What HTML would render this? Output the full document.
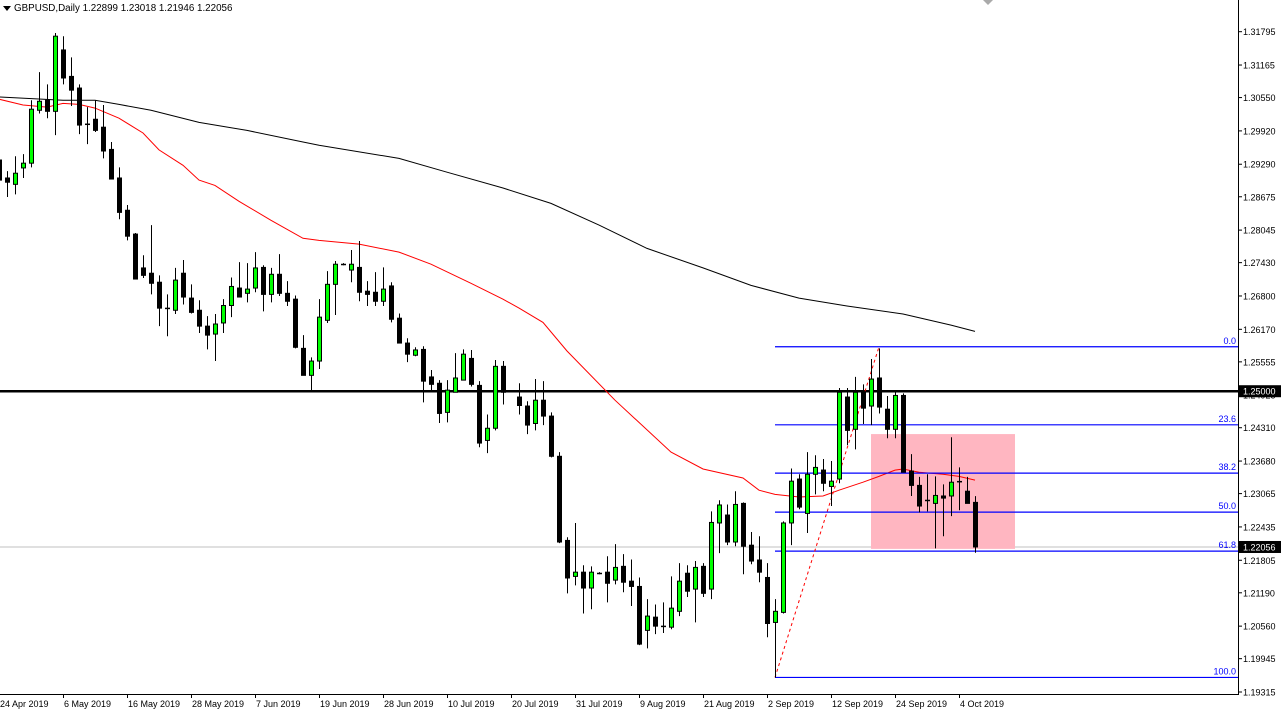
<!DOCTYPE html>
<html><head><meta charset="utf-8"><style>
html,body{margin:0;padding:0;background:#fff;}
svg{display:block;font-family:"Liberation Sans",sans-serif;}
</style></head><body>
<svg id="chart" width="1281" height="712" viewBox="0 0 1281 712" xmlns="http://www.w3.org/2000/svg">
<rect x="0" y="0" width="1281" height="712" fill="#fff"/>
<g id="grid"></g>
<g id="ma"></g>
<g id="fib"></g>
<g id="candles"></g>
<g id="overlay"></g>
<g id="axes"></g>
</svg>
<script>
const opens=[1.2937,1.2903,1.2891,1.2922,1.2931,1.3031,1.3050,1.3029,1.3145,1.3095,1.3073,1.3005,1.3014,1.2999,1.2957,1.2903,1.2842,1.2797,1.2733,1.2723,1.2706,1.2657,1.2653,1.2723,1.2676,1.2653,1.2623,1.2608,1.2629,1.2662,1.2695,1.2685,1.2695,1.2734,1.2683,1.2721,1.2685,1.2674,1.2581,1.2530,1.2557,1.2634,1.2702,1.2740,1.2729,1.2734,1.2689,1.2687,1.2670,1.2699,1.2638,1.2591,1.2568,1.2579,1.2527,1.2515,1.2460,1.2498,1.2521,1.2562,1.2511,1.2407,1.2430,1.2547,1.2500,1.2489,1.2472,1.2439,1.2483,1.2453,1.2377,1.2218,1.2150,1.2158,1.2128,1.2156,1.2158,1.2143,1.2169,1.2141,1.2131,1.2048,1.2073,1.2056,1.2054,1.2084,1.2156,1.2126,1.2169,1.2126,1.2251,1.2266,1.2215,1.2288,1.2209,1.2181,1.2148,1.2063,1.2082,1.2251,1.2334,1.2269,1.2343,1.2351,1.2320,1.2334,1.2489,1.2428,1.2498,1.2472,1.2525,1.2466,1.2428,1.2492,1.2349,1.2322,1.2294,1.2288,1.2302,1.2302,1.2330,1.2311,1.22899];
const highs=[1.2946,1.2916,1.2944,1.2948,1.3050,1.3103,1.3080,1.3177,1.3171,1.3131,1.3080,1.3037,1.3050,1.3041,1.2971,1.2923,1.2852,1.2799,1.2757,1.2814,1.2719,1.2683,1.2733,1.2748,1.2702,1.2672,1.2642,1.2646,1.2674,1.2715,1.2744,1.2742,1.2763,1.2738,1.2733,1.2759,1.2708,1.2681,1.2606,1.2564,1.2674,1.2727,1.2746,1.2742,1.2767,1.2784,1.2708,1.2725,1.2734,1.2706,1.2647,1.2600,1.2583,1.2585,1.2540,1.2521,1.2521,1.2572,1.2579,1.2578,1.2519,1.2456,1.2559,1.2557,1.2502,1.2515,1.2481,1.2523,1.2519,1.2460,1.2385,1.2224,1.2251,1.2171,1.2169,1.2158,1.2188,1.2211,1.2192,1.2182,1.2148,1.2107,1.2097,1.2101,1.2150,1.2175,1.2171,1.2179,1.2175,1.2273,1.2294,1.2286,1.2311,1.2290,1.2234,1.2226,1.2175,1.2107,1.2254,1.2354,1.2343,1.2385,1.2379,1.2372,1.2368,1.2506,1.2506,1.2527,1.2513,1.2561,1.2581,1.2491,1.2502,1.2496,1.2381,1.2338,1.2343,1.2339,1.2324,1.2413,1.2356,1.2338,1.23018];
const lows=[1.2889,1.2867,1.2872,1.2903,1.2923,1.3025,1.3016,1.2984,1.3080,1.3039,1.2986,1.2967,1.2990,1.2940,1.2901,1.2825,1.2785,1.2712,1.2714,1.2683,1.2623,1.2604,1.2646,1.2664,1.2647,1.2610,1.2579,1.2557,1.2610,1.2640,1.2678,1.2668,1.2687,1.2651,1.2668,1.2680,1.2661,1.2581,1.2530,1.2502,1.2542,1.2629,1.2644,1.2738,1.2706,1.2670,1.2661,1.2661,1.2661,1.2630,1.2591,1.2555,1.2566,1.2479,1.2498,1.2440,1.2441,1.2498,1.2521,1.2509,1.2394,1.2383,1.2426,1.2475,1.2498,1.2456,1.2419,1.2426,1.2436,1.2375,1.2213,1.2118,1.2133,1.2080,1.2088,1.2154,1.2101,1.2135,1.2120,1.2094,1.2020,1.2014,1.2041,1.2043,1.2050,1.2075,1.2111,1.2063,1.2111,1.2107,1.2194,1.2209,1.2207,1.2154,1.2173,1.2139,1.2035,1.1959,1.2080,1.2209,1.2277,1.2232,1.2305,1.2311,1.2283,1.2326,1.2398,1.2390,1.2438,1.2436,1.2458,1.2411,1.2411,1.2347,1.2302,1.2271,1.2273,1.2203,1.2226,1.2264,1.2275,1.2288,1.21946];
const closes=[1.2899,1.2895,1.2912,1.2931,1.3033,1.3048,1.3029,1.3171,1.3092,1.3069,1.3003,1.3004,1.2993,1.2954,1.2901,1.2838,1.2793,1.2712,1.2719,1.2704,1.2657,1.2656,1.2710,1.2678,1.2649,1.2623,1.2606,1.2627,1.2662,1.2698,1.2678,1.2693,1.2733,1.2683,1.2721,1.2685,1.2670,1.2583,1.2530,1.2557,1.2640,1.2702,1.2740,1.2739,1.2740,1.2687,1.2683,1.2670,1.2693,1.2636,1.2591,1.2570,1.2578,1.2519,1.2513,1.2458,1.2502,1.2525,1.2570,1.2513,1.2402,1.2430,1.2547,1.2498,1.2499,1.2473,1.2436,1.2483,1.2453,1.2377,1.2215,1.2147,1.2158,1.2128,1.2158,1.2155,1.2137,1.2167,1.2139,1.2131,1.2022,1.2075,1.2056,1.2055,1.2090,1.2141,1.2122,1.2167,1.2118,1.2252,1.2285,1.2215,1.2286,1.2207,1.2179,1.2158,1.2061,1.2084,1.2251,1.2330,1.2281,1.2343,1.2356,1.2326,1.2330,1.2498,1.2426,1.2498,1.2468,1.2523,1.2470,1.2428,1.2492,1.2347,1.2322,1.2283,1.2293,1.2303,1.2298,1.2328,1.2328,1.2288,1.22056];
const dateLabels=["24 Apr 2019","6 May 2019","16 May 2019","28 May 2019","7 Jun 2019","19 Jun 2019","28 Jun 2019","10 Jul 2019","20 Jul 2019","31 Jul 2019","9 Aug 2019","21 Aug 2019","2 Sep 2019","12 Sep 2019","24 Sep 2019","4 Oct 2019"];
const dateIdx=[0,8,16,24,32,40,48,56,64,72,80,88,96,104,112,120];
const priceTicks=[1.31795,1.31165,1.30550,1.29920,1.29290,1.28675,1.28045,1.27430,1.26800,1.26170,1.25555,1.24925,1.24310,1.23680,1.23065,1.22435,1.21805,1.21190,1.20560,1.19945,1.19315];
const ma50Idx=[0,3,6,8,10,12,15,18,20,23,25,27,30,34,38,40,45,50,54,59,63,65,68,71,77,84,88,93,95,97,100,103,105,108,110,112,113,115,118,120,122];
const ma50Val=[1.3052,1.3041,1.3037,1.3044,1.3042,1.3035,1.3016,1.2988,1.2956,1.2927,1.2899,1.2889,1.2859,1.2823,1.2789,1.2785,1.2778,1.2763,1.2740,1.2704,1.2674,1.2657,1.2630,1.2576,1.2483,1.2385,1.2353,1.2336,1.2313,1.2305,1.2300,1.2302,1.2313,1.2328,1.2339,1.2351,1.2353,1.2347,1.2343,1.2339,1.2332];
const ma200Idx=[0,8,12,15,19,25,31,38,40,50,56,63,69,75,81,88,94,100,106,113,119,122];
const ma200Val=[1.3056,1.3050,1.3050,1.3042,1.3031,1.3008,1.2993,1.2971,1.2965,1.2940,1.2914,1.2884,1.2855,1.2814,1.2770,1.2733,1.2700,1.2676,1.2661,1.2646,1.2625,1.2613];
const fibLevels=[0.0,23.6,38.2,50.0,61.8,100.0];
const fibHigh=1.2584, fibLow=1.1959, fibHighIdx=110, fibLowIdx=97;
const hLinePrice=1.25000, lastPrice=1.22056;
const zoneTop=1.2419, zoneBottom=1.2202, zoneStartIdx=109;

const NS="http://www.w3.org/2000/svg";
const AX=1238, AY=694;
function X(i){return -1+8*i;}
function Y(p){return (1.32394-p)/0.000189;}
function mk(tag,attrs,parent,text){const e=document.createElementNS(NS,tag);for(const k in attrs)e.setAttribute(k,attrs[k]);if(text!==undefined)e.textContent=text;parent.appendChild(e);return e;}
const gMa=document.getElementById('ma'),gFib=document.getElementById('fib'),gC=document.getElementById('candles'),gO=document.getElementById('overlay'),gA=document.getElementById('axes'),gG=document.getElementById('grid');

let hl=mk('line',{x1:0,x2:AX,y1:Y(hLinePrice),y2:Y(hLinePrice),stroke:'#000','stroke-width':2.5},gG);


let lp=mk('line',{x1:0,x2:AX,y1:Y(lastPrice),y2:Y(lastPrice),stroke:'#c0c0c0','stroke-width':1},gG);



let zr=mk('rect',{x:X(zoneStartIdx),y:Y(zoneTop),width:1015-X(zoneStartIdx),height:Y(zoneBottom)-Y(zoneTop),fill:'#ffb6c1'},gG);



function poly(idx,val,color,name){const pts=idx.map((k,j)=>X(k)+','+Y(val[j]).toFixed(1)).join(' ');const p=mk('polyline',{points:pts,fill:'none',stroke:color,'stroke-width':1},gMa);}
poly(ma200Idx,ma200Val,'#000','ma-200-line');
poly(ma50Idx,ma50Val,'#ff0000','ma-50-line');

fibLevels.forEach(l=>{const p=fibHigh-(fibHigh-fibLow)*l/100;const y=Y(p);
const ln=mk('line',{x1:X(fibLowIdx),x2:AX,y1:y,y2:y,stroke:'#0000ff','stroke-width':1.2},gFib);


const t=mk('text',{x:1236,y:y-3,'text-anchor':'end','font-size':9,fill:'#0000ff'},gFib,l.toFixed(1));

});
let fd=mk('line',{x1:X(fibLowIdx),y1:Y(fibLow),x2:X(fibHighIdx),y2:Y(fibHigh),stroke:'#ff0000','stroke-width':1,'stroke-dasharray':'3,3'},gFib);



opens.forEach((o,i)=>{const c=closes[i],h=highs[i],l=lows[i],x=X(i);
const g=mk('g',{},gC);


mk('line',{x1:x+0.5,x2:x+0.5,y1:Y(h),y2:Y(l),stroke:'#000','stroke-width':1},g);
const top=Math.min(Y(o),Y(c)),bot=Math.max(Y(o),Y(c));
if(bot-top<1.5){mk('line',{x1:x-2,x2:x+3,y1:(top+bot)/2,y2:(top+bot)/2,stroke:'#000','stroke-width':1.5},g);}
else mk('rect',{x:x-1.5,y:top,width:4,height:bot-top,fill:c>=o?'#00ff00':'#000',stroke:'#000','stroke-width':1},g);});

let axr=mk('line',{x1:AX+0.5,x2:AX+0.5,y1:0,y2:AY,stroke:'#000','stroke-width':1},gA);


let axb=mk('line',{x1:0,x2:AX+1,y1:AY+0.5,y2:AY+0.5,stroke:'#000','stroke-width':1},gA);


priceTicks.forEach(p=>{const y=Y(p);mk('line',{x1:AX,x2:AX+4,y1:y,y2:y,stroke:'#000'},gA);
const t=mk('text',{x:1243,y:y+3.5,'font-size':9,fill:'#000'},gA,p.toFixed(5));

});
dateIdx.forEach((k,j)=>{const x=X(k);mk('line',{x1:x+0.5,x2:x+0.5,y1:AY,y2:AY+4,stroke:'#000'},gA);
const t=mk('text',{x:x+1,y:707,'font-size':9,fill:'#000'},gA,dateLabels[j]);

});
function box(p,name){const y=Y(p);mk('rect',{x:1239,y:y-6,width:42,height:12,fill:'#000'},gA);
const t=mk('text',{x:1243,y:y+3.5,'font-size':9,fill:'#fff'},gA,p.toFixed(5));

}
box(hLinePrice,'level-price-label');
box(lastPrice,'current-price-label');
</script>
<svg style="position:absolute;left:0;top:0" width="1281" height="20">
<polygon points="3,6 11,6 7,11" fill="#000"/>
<text x="14" y="11" font-size="9.8" fill="#000" font-family="Liberation Sans, sans-serif">GBPUSD,Daily  1.22899 1.23018 1.21946 1.22056</text>
<polygon points="983,0 993,0 988,5" fill="#aaa"/>
</svg>
</body></html>
